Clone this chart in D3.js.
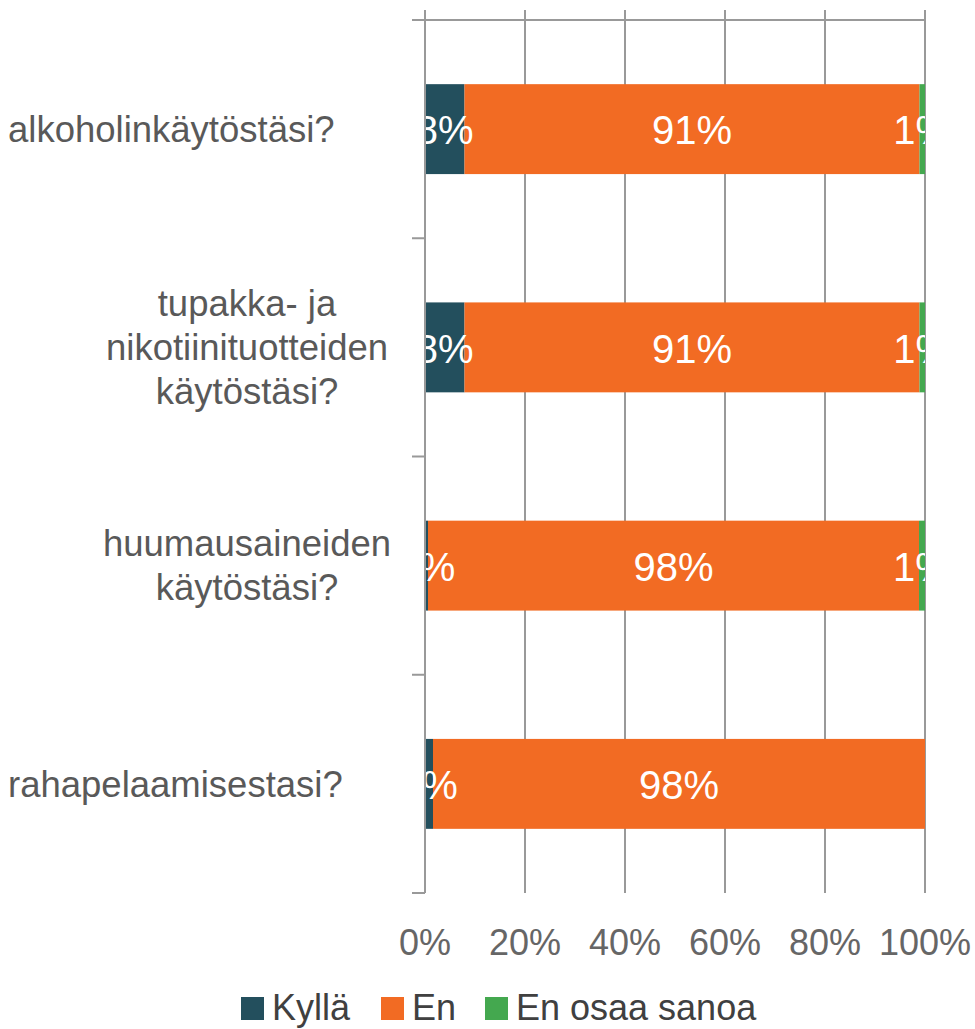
<!DOCTYPE html>
<html>
<head>
<meta charset="utf-8">
<script src="https://cdn.jsdelivr.net/npm/d3@7"></script>
<style>
  body { margin: 0; background: #fff; }
  svg { display: block; font-family: "Liberation Sans", Arial, sans-serif; }
</style>
</head>
<body>
<div id="chart"></div>
<script>
// categories (one line per entry of the wrapped label)
var categories = [
  ["alkoholinkäytöstäsi?"],
  ["tupakka- ja", "nikotiinituotteiden", "käytöstäsi?"],
  ["huumausaineiden", "käytöstäsi?"],
  ["rahapelaamisestasi?"]
]
var seriesNames = ["Kyllä", "En", "En osaa sanoa"]
var seriesColors = ["#234f5d", "#f26b23", "#44a84f"]
// shares per category, in series order
var kylla = [0.079, 0.079, 0.006, 0.016]
var en = [0.910, 0.910, 0.982, 0.984]
var eos = [0.011, 0.011, 0.012, 0]
var tickValues = [0, 0.2, 0.4, 0.6, 0.8, 1]

var width = 975, height = 1029

var svg = d3.select("#chart").append("svg")
    .attr("width", width)
    .attr("height", height)

var x = d3.scaleLinear().domain([0, 1]).range([425, 925])
var keys = categories.map(function (d, i) { return "c" + i })
var y = d3.scaleBand().domain(keys).range([20, 893])
    .paddingInner(0.588).paddingOuter(0.294)

// gridlines
svg.selectAll(".grid")
    .data(tickValues)
    .enter()
    .append("line")
    .attr("x1", function (d) { return x(d) })
    .attr("x2", function (d) { return x(d) })
    .attr("y1", 10)
    .attr("y2", 893)
    .attr("stroke", "#999")
    .attr("stroke-width", 2)

// top line
svg.append("line")
    .attr("x1", 412).attr("x2", x(1))
    .attr("y1", 20).attr("y2", 20)
    .attr("stroke", "#999").attr("stroke-width", 2)

// category ticks at band boundaries
var boundaries = keys.map(function (k) { return y(k) - y.step() * y.paddingInner() / 2 })
boundaries.push(893)
svg.selectAll(".ctick")
    .data(boundaries.slice(1))
    .enter()
    .append("line")
    .attr("x1", 412).attr("x2", 425)
    .attr("y1", function (d) { return d })
    .attr("y2", function (d) { return d })
    .attr("stroke", "#999").attr("stroke-width", 2)

// stacked data
var rows = categories.map(function (c, i) {
    return { key: keys[i], "Kyllä": kylla[i], "En": en[i], "En osaa sanoa": eos[i] }
})
var stacked = d3.stack().keys(seriesNames)(rows)

svg.append("clipPath").attr("id", "plotclip")
    .append("rect")
    .attr("x", x(0)).attr("y", 0)
    .attr("width", x(1) - x(0)).attr("height", 900)

var layers = svg.selectAll(".layer")
    .data(stacked)
    .enter()
    .append("g")
    .attr("fill", function (d, i) { return seriesColors[i] })

layers.selectAll("rect")
    .data(function (d) { return d })
    .enter()
    .append("rect")
    .attr("x", function (d) { return x(d[0]) })
    .attr("width", function (d) { return x(d[1]) - x(d[0]) })
    .attr("y", function (d) { return y(d.data.key) })
    .attr("height", y.bandwidth())

// data labels (white, clipped to plot)
var fmt = d3.format(".0%")
var labelGroup = svg.append("g").attr("clip-path", "url(#plotclip)")
stacked.forEach(function (layer) {
    labelGroup.selectAll(null)
        .data(layer.filter(function (d) { return d[1] - d[0] > 0 }))
        .enter()
        .append("text")
        .attr("x", function (d) { return x((d[0] + d[1]) / 2) })
        .attr("y", function (d) { return y(d.data.key) + y.bandwidth() / 2 })
        .attr("dy", "0.38em")
        .attr("text-anchor", "middle")
        .attr("fill", "#fff")
        .style("font-size", "40px")
        .text(function (d) { return fmt(d[1] - d[0]) })
})

// axis line at 0%
svg.append("line")
    .attr("x1", x(0)).attr("x2", x(0))
    .attr("y1", 10).attr("y2", 893)
    .attr("stroke", "#999").attr("stroke-width", 2)

// category labels
categories.forEach(function (lines, i) {
    var cy = y(keys[i]) + y.bandwidth() / 2
    var lh = 44
    var single = lines.length === 1
    var t = svg.append("text")
        .attr("text-anchor", single ? "start" : "middle")
        .attr("fill", "#595959")
        .style("font-size", "36.5px")
    lines.forEach(function (line, j) {
        t.append("tspan")
            .attr("x", single ? 8 : 247)
            .attr("y", cy + (j - (lines.length - 1) / 2) * lh)
            .attr("dy", "0.35em")
            .text(line)
    })
})

// x tick labels
svg.selectAll(".xlab")
    .data(tickValues)
    .enter()
    .append("text")
    .attr("x", function (d) { return x(d) })
    .attr("y", 955)
    .attr("text-anchor", "middle")
    .attr("fill", "#666")
    .style("font-size", "36px")
    .text(function (d) { return fmt(d) })

// legend
var legendX = [241, 381, 485]
var legend = svg.selectAll(".leg")
    .data(seriesNames)
    .enter()
    .append("g")
    .attr("transform", function (d, i) { return "translate(" + legendX[i] + ",997)" })
legend.append("rect")
    .attr("width", 23).attr("height", 23)
    .attr("fill", function (d, i) { return seriesColors[i] })
legend.append("text")
    .attr("x", 31).attr("y", 23)
    .attr("fill", "#404040")
    .style("font-size", "36px")
    .text(function (d) { return d })
</script>
</body>
</html>
